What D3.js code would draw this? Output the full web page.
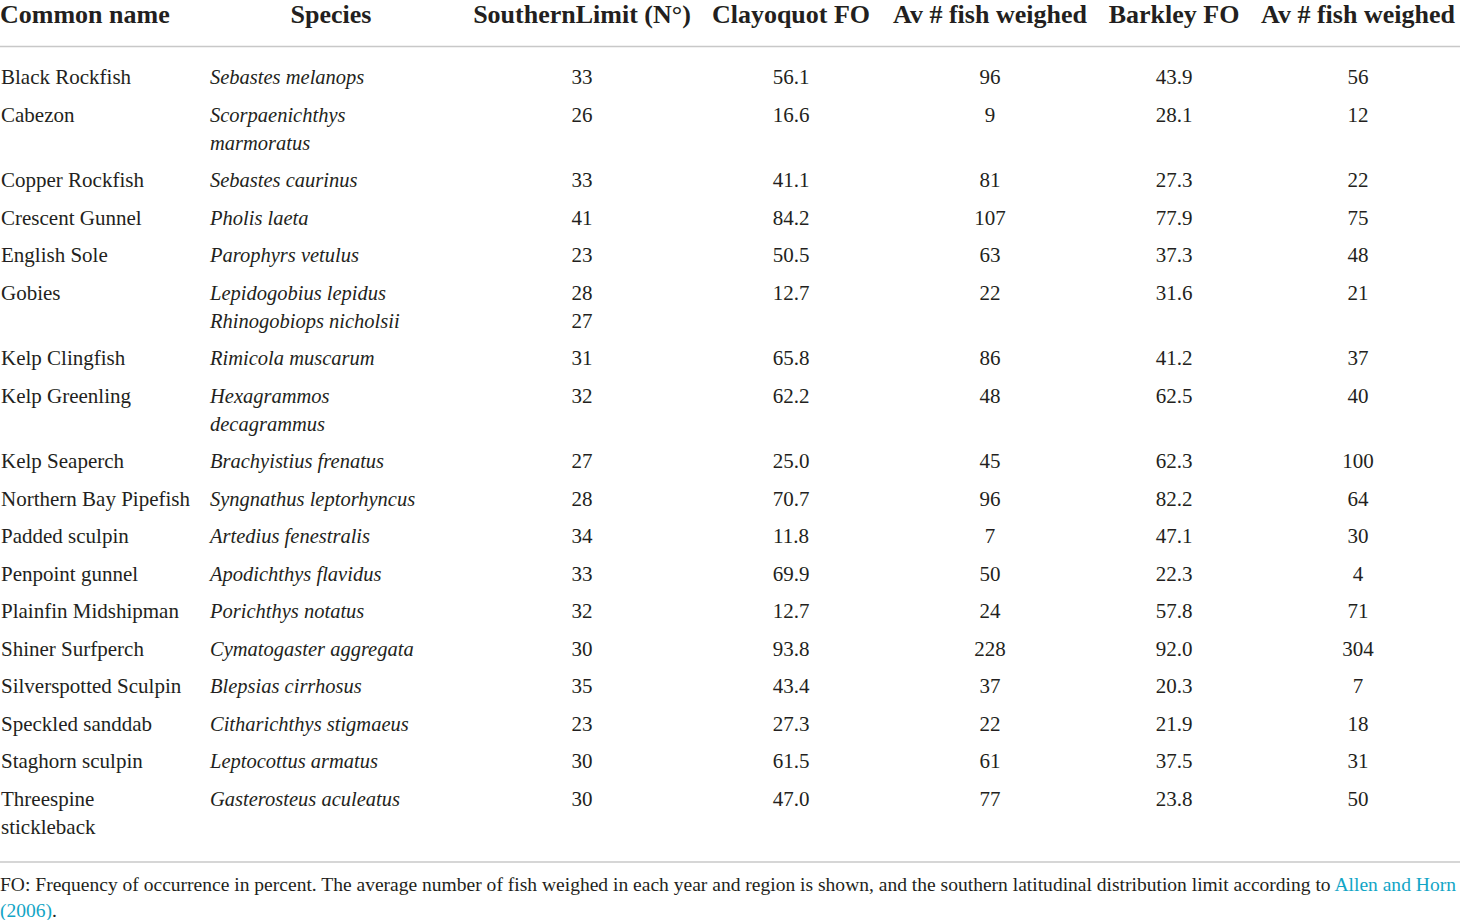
<!DOCTYPE html>
<html>
<head>
<meta charset="utf-8">
<script src="https://cdn.jsdelivr.net/npm/d3@7/dist/d3.min.js"></script>
<style>
  html, body { margin: 0; padding: 0; background: #fff; }
  svg { display: block; }
</style>
</head>
<body>
<div id="chart"></div>
<script>
// ---------------- DATA ----------------
const headers = ["Common name", "Species", "SouthernLimit (N°)", "Clayoquot FO", "Av # fish weighed", "Barkley FO", "Av # fish weighed"];

const commonNames = [
  ["Black Rockfish"], ["Cabezon"], ["Copper Rockfish"], ["Crescent Gunnel"], ["English Sole"],
  ["Gobies"], ["Kelp Clingfish"], ["Kelp Greenling"], ["Kelp Seaperch"], ["Northern Bay Pipefish"],
  ["Padded sculpin"], ["Penpoint gunnel"], ["Plainfin Midshipman"], ["Shiner Surfperch"],
  ["Silverspotted Sculpin"], ["Speckled sanddab"], ["Staghorn sculpin"], ["Threespine", "stickleback"]
];

const speciesNames = [
  ["Sebastes melanops"], ["Scorpaenichthys", "marmoratus"], ["Sebastes caurinus"], ["Pholis laeta"],
  ["Parophyrs vetulus"], ["Lepidogobius lepidus", "Rhinogobiops nicholsii"], ["Rimicola muscarum"],
  ["Hexagrammos", "decagrammus"], ["Brachyistius frenatus"], ["Syngnathus leptorhyncus"],
  ["Artedius fenestralis"], ["Apodichthys flavidus"], ["Porichthys notatus"], ["Cymatogaster aggregata"],
  ["Blepsias cirrhosus"], ["Citharichthys stigmaeus"], ["Leptocottus armatus"], ["Gasterosteus aculeatus"]
];

const southernLimit = [[33], [26], [33], [41], [23], [28, 27], [31], [32], [27], [28], [34], [33], [32], [30], [35], [23], [30], [30]];
const clayoquotFO   = [56.1, 16.6, 41.1, 84.2, 50.5, 12.7, 65.8, 62.2, 25.0, 70.7, 11.8, 69.9, 12.7, 93.8, 43.4, 27.3, 61.5, 47.0];
const clayoquotN    = [96, 9, 81, 107, 63, 22, 86, 48, 45, 96, 7, 50, 24, 228, 37, 22, 61, 77];
const barkleyFO     = [43.9, 28.1, 27.3, 77.9, 37.3, 31.6, 41.2, 62.5, 62.3, 82.2, 47.1, 22.3, 57.8, 92.0, 20.3, 21.9, 37.5, 23.8];
const barkleyN      = [56, 12, 22, 75, 48, 21, 37, 40, 100, 64, 30, 4, 71, 304, 7, 18, 31, 50];

const footnoteText = "FO: Frequency of occurrence in percent. The average number of fish weighed in each year and region is shown, and the southern latitudinal distribution limit according to ";
const footnoteLink = ["Allen and Horn", "(2006)"];

// ---------------- LAYOUT ----------------
const W = 1460, H = 920;
const serif = "'Liberation Serif', 'Times New Roman', serif";
const textColor = "#231f20";
const ruleColor = "#c8c8c8";
const linkColor = "#12a5c6";

const svg = d3.select("#chart").append("svg")
  .attr("width", W).attr("height", H)
  .attr("viewBox", `0 0 ${W} ${H}`);

// column scale: key -> x position (start for text columns, centre for numeric)
const colKeys = ["common", "species", "limit", "cfo", "cn", "bfo", "bn"];
const colX = d3.scaleOrdinal().domain(colKeys).range([1, 210, 582, 791, 990, 1174, 1358]);
const headerX = d3.scaleOrdinal().domain(colKeys).range([0, 331, 582, 791, 990, 1174, 1358]);

// row layout: line counts -> cumulative vertical offsets
const nLines = commonNames.map((c, i) => Math.max(c.length, speciesNames[i].length, southernLimit[i].length));
const lineH = 28, rowPad = 9.5;
const rowTops = [0, ...d3.cumsum(nLines.map(n => n * lineH + rowPad))];
const y = d3.scaleLinear().domain([0, 1]).range([84, 85]); // baseline of first body line

// header
svg.append("g").selectAll("text").data(headers).join("text")
  .attr("x", (d, i) => headerX(colKeys[i]))
  .attr("y", 23)
  .attr("text-anchor", (d, i) => i === 0 ? "start" : "middle")
  .attr("font-family", serif).attr("font-weight", "bold").attr("font-size", 26)
  .attr("fill", textColor)
  .text(d => d);

// rules
svg.append("line").attr("x1", 0).attr("x2", W).attr("y1", 46.5).attr("y2", 46.5)
  .attr("stroke", ruleColor).attr("stroke-width", 1.5);
svg.append("line").attr("x1", 0).attr("x2", W).attr("y1", 862).attr("y2", 862)
  .attr("stroke", ruleColor).attr("stroke-width", 1.5);

// body
const rows = commonNames.map((c, i) => ({
  i,
  common: c,
  species: speciesNames[i],
  limit: southernLimit[i].map(String),
  cfo: [d3.format(".1f")(clayoquotFO[i])],
  cn: [String(clayoquotN[i])],
  bfo: [d3.format(".1f")(barkleyFO[i])],
  bn: [String(barkleyN[i])]
}));

const body = svg.append("g")
  .attr("font-family", serif).attr("fill", textColor);

const rowG = body.selectAll("g.row").data(rows).join("g").attr("class", "row");

colKeys.forEach((k, ci) => {
  rowG.each(function (r) {
    d3.select(this).selectAll(null).data(r[k]).join("text")
      .attr("x", colX(k))
      .attr("y", (d, li) => y(rowTops[r.i] + li * lineH))
      .attr("text-anchor", ci < 2 ? "start" : "middle")
      .attr("font-style", ci === 1 ? "italic" : "normal")
      .attr("font-size", ci === 1 ? 20.5 : 21)
      .text(d => d);
  });
});

// footnote
const fn1 = svg.append("text")
  .attr("x", 0).attr("y", 891)
  .attr("font-family", serif).attr("font-size", 20).attr("fill", textColor);
fn1.append("tspan").text(footnoteText);
fn1.append("tspan").attr("fill", linkColor).text(footnoteLink[0]);
const len = fn1.node().getComputedTextLength();
const fnSize = Math.min(22, 20 * 1457 / len);
fn1.attr("font-size", fnSize);

const fn2 = svg.append("text")
  .attr("x", 0).attr("y", 917)
  .attr("font-family", serif).attr("font-size", fnSize).attr("fill", textColor);
fn2.append("tspan").attr("fill", linkColor).text(footnoteLink[1]);
fn2.append("tspan").text(".");
</script>
</body>
</html>
